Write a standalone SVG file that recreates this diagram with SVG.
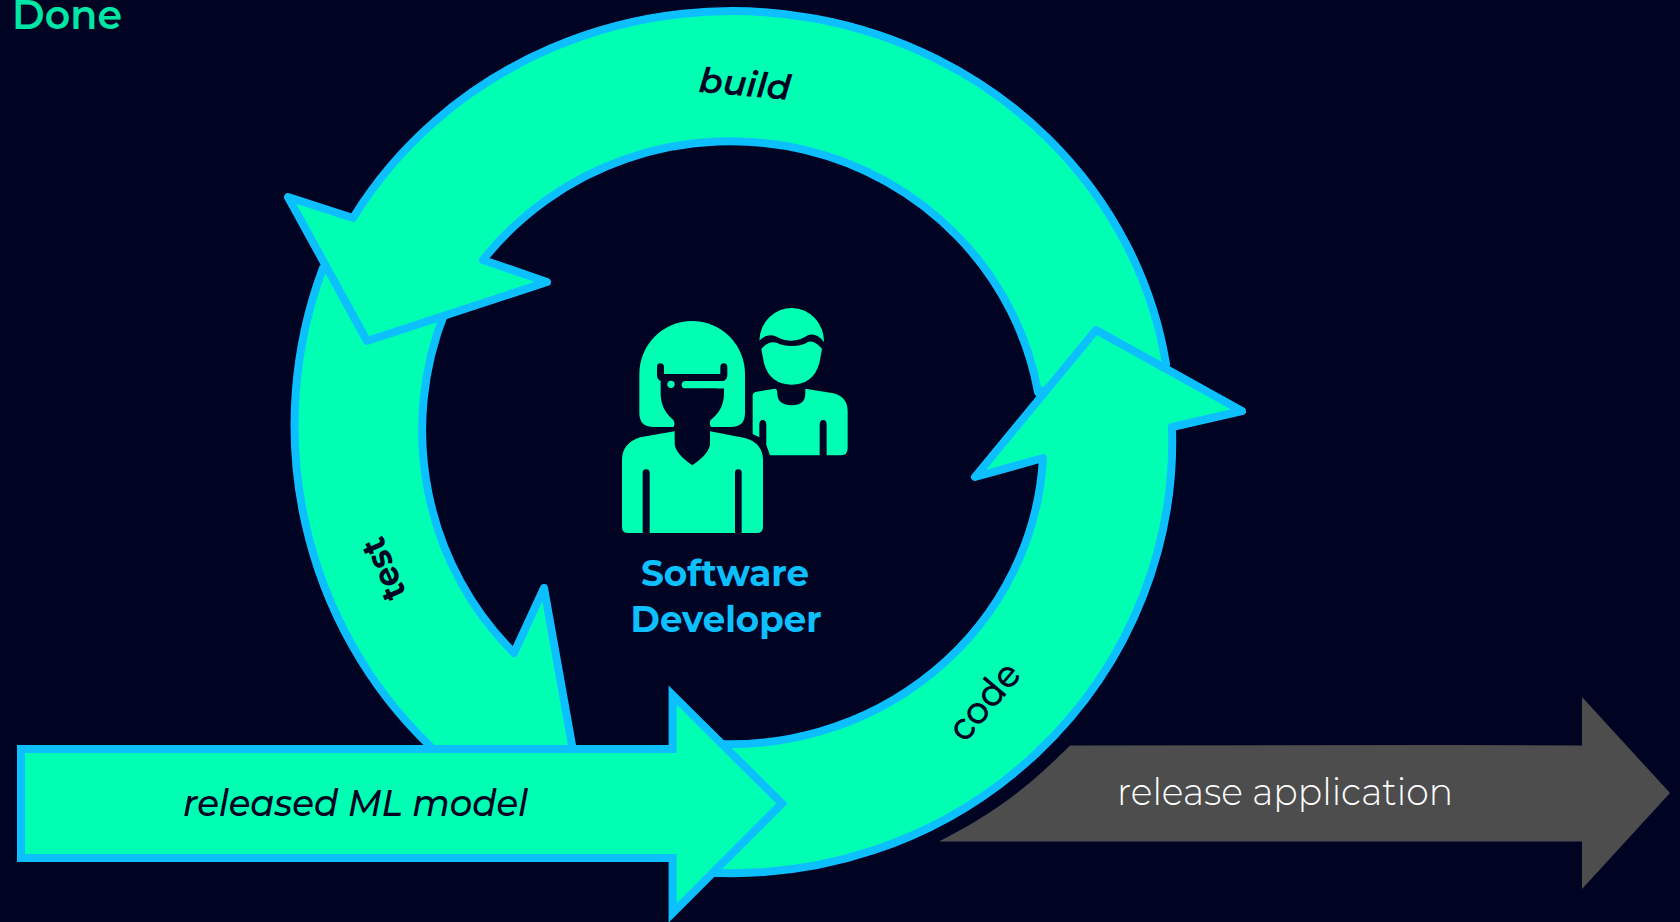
<svg xmlns="http://www.w3.org/2000/svg" width="1680" height="922" viewBox="0 0 1680 922">
<style>
.seg{fill:#00ffb2;stroke:#0cc0ff;stroke-width:8;stroke-linejoin:round}
.mint{fill:#00ffb2}
.bg{fill:#000322}
text{font-family:"Montserrat","Inter","Liberation Sans",sans-serif}
.lbl{fill:#000322;font-size:35px;font-style:italic;font-weight:600}
.dev{fill:#0cc0ff;font-size:36px;font-weight:700;text-anchor:middle}
</style>
<rect class="bg" x="0" y="0" width="1680" height="922"/>
<text x="12" y="29" font-size="40" font-weight="600" fill="#00e6a5" textLength="110" lengthAdjust="spacingAndGlyphs">Done</text>
<g id="connectors">
<path id="seg-test" class="seg" d="M445 312L323 268A430 440 0 0 0 429 745L470 790H580L544 588L514 653A302 310 0 0 1 445 312Z"/>
<path id="seg-build" class="seg" d="M1166 364A439 417 0 0 0 353 218L288 197L367 341L547 282L483 260A312 303 0 0 1 1038 392Z"/>
<path id="seg-code" class="seg" d="M700 872A440 432 0 0 0 1172 427L1242 411L1096 330L975 477L1043 458A314 302 0 0 1 700 743Z"/>
<path id="arrow-released" d="M21 749H672.6V695L782 803.5L672.6 913V858H21Z" fill="#00ffb2" stroke="#0cc0ff" stroke-width="8" stroke-miterlimit="10"/>
<path id="arrow-release" d="M1070 745.500L1447 745L1582 745.500V697L1670 793L1582 889V841.500H939C990 815 1020 795 1070 745.500Z" fill="#4d4d4d"/>
</g>
<g id="label-build"><text class="lbl" transform="translate(698 92) rotate(5)" textLength="92" lengthAdjust="spacingAndGlyphs">build</text></g>
<g id="label-test"><text class="lbl" style="font-style:normal;font-weight:700" transform="translate(407 594) rotate(-113)" textLength="64" lengthAdjust="spacingAndGlyphs">test</text></g>
<g id="label-code"><text class="lbl" style="font-style:normal;font-size:38px;font-weight:500" transform="translate(965 744) rotate(-50)" textLength="90" lengthAdjust="spacingAndGlyphs">code</text></g>
<g id="label-released"><text class="lbl" x="183" y="816" style="font-size:37px;font-weight:500" textLength="345" lengthAdjust="spacingAndGlyphs">released ML model</text></g>
<g id="label-release"><text x="1117" y="805" font-size="37" font-weight="300" fill="#fff" textLength="336" lengthAdjust="spacingAndGlyphs">release application</text></g>
<g id="developer-icon" transform="translate(560 280) scale(.33333)">
<path class="mint" d="M238 282A158.500 159 0 0 1 555 282V400Q555 441 512 441H280Q238 441 238 400Z"/>
<path class="bg" d="M291 262Q291 250 301 250Q312 250 312 262V282H481V262Q481 250 491 250Q502 250 502 262V285Q502 298 492 302V340Q492 390 452 420Q445 432 456 445H338Q348 432 340 420Q302 390 302 340V303Q291 298 291 285Z"/>
<rect class="mint" x="365" y="303" width="132" height="22" rx="11"/>
<rect class="mint" x="470" y="303" width="27" height="22"/>
<circle class="mint" cx="333" cy="313" r="11"/>
<path class="mint" d="M344 454V490Q344 520 397 556Q450 520 450 490V454L555 474Q609 490 609 540V740Q609 759 590 759H545V578Q545 568 535 568Q525 568 525 578V759H269V578Q269 568 259 568Q248 568 248 578V759H205Q186 759 186 740V540Q186 490 240 472Z"/>
<path class="mint" d="M598 182A97 100 0 0 1 792 186Q770 158 745 165Q720 182 695 182Q670 182 650 170Q620 158 598 182Z"/>
<path class="mint" d="M604 207Q625 182 650 188Q670 198 695 198Q725 198 745 185Q765 180 786 207L778 250Q760 314 695 314Q630 314 612 250Z"/>
<path class="mint" d="M578 345Q578 338 590 335L645 326Q652 326 652 340Q652 376 696 376Q736 376 736 340V326L820 340Q863 350 863 395V505Q863 526 843 526H800V435Q800 420 790 420Q779 420 779 435V526H630L619 495V435Q619 420 608 420Q598 420 598 435V472L578 462Z"/>
</g>
<g id="developer-label">
<text class="dev" x="725" y="586" textLength="168" lengthAdjust="spacingAndGlyphs">Software</text>
<text class="dev" x="726" y="632" textLength="191" lengthAdjust="spacingAndGlyphs">Developer</text>
</g>
</svg>
